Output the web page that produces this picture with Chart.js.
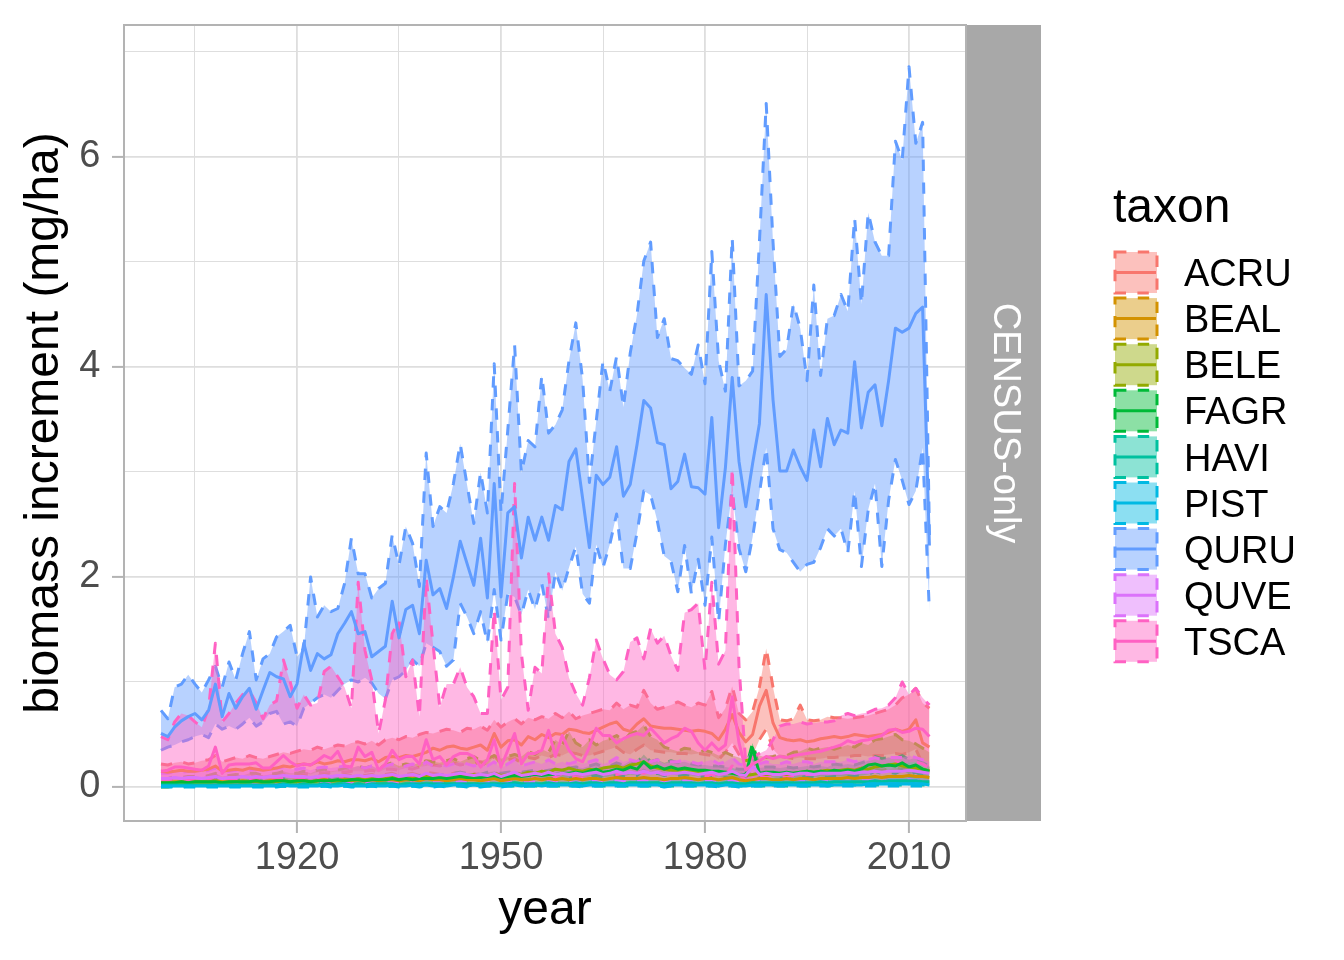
<!DOCTYPE html>
<html>
<head>
<meta charset="utf-8">
<title>biomass increment by taxon</title>
<script src="https://cdn.jsdelivr.net/npm/chart.js@4.4.1/dist/chart.umd.min.js"></script>
<style>
  html, body { margin: 0; padding: 0; background: #ffffff; }
  canvas { display: block; }
</style>
</head>
<body>
<canvas id="biomassChart" width="1344" height="960"></canvas>
<script>
// years 1900..2013, one value per year for every series
const years = [];
for (let y = 1900; y <= 2013; y++) years.push(y);

const taxa = ["ACRU", "BEAL", "BELE", "FAGR", "HAVI", "PIST", "QURU", "QUVE", "TSCA"];
const taxonColors = ["#F8766D", "#D39200", "#93AA00", "#00BA38", "#00C19F", "#00B9E3", "#619CFF", "#DB72FB", "#FF61C3"];

const xMajorTicks = [1920, 1950, 1980, 2010];
const xMinorTicks = [1905, 1935, 1965, 1995];
const yMajorTicks = [0, 2, 4, 6];
const yMinorTicks = [1, 3, 5, 7];
const facetLabel = "CENSUS-only";

// ---- ACRU
const acruHi = [
  0.22, 0.21, 0.23, 0.24, 0.22, 0.23, 0.25, 0.26, 0.30, 0.24,
  0.26, 0.28, 0.27, 0.30, 0.28, 0.27, 0.29, 0.31, 0.33, 0.32,
  0.34, 0.36, 0.35, 0.38, 0.36, 0.38, 0.40, 0.39, 0.42, 0.43,
  0.41, 0.44, 0.40, 0.45, 0.47, 0.45, 0.48, 0.47, 0.50, 0.52,
  0.51, 0.53, 0.55, 0.54, 0.52, 0.56, 0.55, 0.58, 0.54, 0.64,
  0.57, 0.62, 0.65, 0.60, 0.66, 0.64, 0.67, 0.65, 0.70, 0.66,
  0.72, 0.65, 0.68, 0.70, 0.72, 0.74, 0.73, 0.80, 0.74, 0.78,
  0.76, 0.92, 0.80, 0.74, 0.76, 0.78, 0.81, 0.78, 0.76, 0.80,
  0.78, 0.91, 0.66, 0.75, 0.96, 0.70, 0.64, 0.72, 0.95, 1.32,
  0.95, 0.64, 0.63, 0.65, 0.78, 0.64, 0.63, 0.64, 0.67, 0.66,
  0.66, 0.65, 0.66, 0.67, 0.68, 0.70, 0.72, 0.74, 0.78, 0.85,
  0.88, 0.94, 0.80, 0.75
];
const acruMid = [
  0.15, 0.14, 0.15, 0.16, 0.15, 0.15, 0.16, 0.17, 0.20, 0.15,
  0.16, 0.17, 0.16, 0.18, 0.17, 0.16, 0.17, 0.18, 0.20, 0.19,
  0.21, 0.22, 0.21, 0.24, 0.22, 0.23, 0.25, 0.24, 0.26, 0.26,
  0.25, 0.27, 0.24, 0.28, 0.29, 0.28, 0.30, 0.29, 0.31, 0.33,
  0.37, 0.35, 0.38, 0.39, 0.37, 0.36, 0.38, 0.40, 0.35, 0.51,
  0.38, 0.44, 0.45, 0.40, 0.48, 0.45, 0.50, 0.47, 0.51, 0.50,
  0.55, 0.54, 0.52, 0.51, 0.54, 0.57, 0.60, 0.62, 0.55, 0.53,
  0.60, 0.65, 0.58, 0.57, 0.56, 0.56, 0.55, 0.54, 0.53, 0.54,
  0.53, 0.51, 0.45, 0.55, 0.69, 0.52, 0.43, 0.50, 0.77, 0.92,
  0.61, 0.47, 0.45, 0.44, 0.45, 0.43, 0.44, 0.46, 0.47, 0.48,
  0.47, 0.48, 0.50, 0.49, 0.48, 0.49, 0.50, 0.52, 0.55, 0.53,
  0.55, 0.64, 0.42, 0.38
];
const acruLo = [
  0.08, 0.08, 0.09, 0.09, 0.09, 0.08, 0.09, 0.10, 0.11, 0.09,
  0.09, 0.10, 0.10, 0.11, 0.10, 0.10, 0.11, 0.11, 0.12, 0.12,
  0.12, 0.13, 0.12, 0.14, 0.13, 0.14, 0.15, 0.14, 0.15, 0.15,
  0.15, 0.16, 0.14, 0.17, 0.17, 0.16, 0.18, 0.17, 0.19, 0.20,
  0.21, 0.20, 0.22, 0.23, 0.21, 0.22, 0.22, 0.24, 0.20, 0.30,
  0.22, 0.26, 0.27, 0.23, 0.28, 0.27, 0.30, 0.28, 0.31, 0.30,
  0.33, 0.32, 0.30, 0.30, 0.32, 0.34, 0.36, 0.38, 0.33, 0.31,
  0.36, 0.40, 0.35, 0.34, 0.33, 0.33, 0.32, 0.32, 0.31, 0.32,
  0.31, 0.30, 0.26, 0.33, 0.42, 0.31, 0.25, 0.30, 0.45, 0.55,
  0.36, 0.29, 0.28, 0.27, 0.28, 0.27, 0.27, 0.27, 0.28, 0.28,
  0.29, 0.29, 0.30, 0.30, 0.29, 0.30, 0.30, 0.31, 0.32, 0.31,
  0.33, 0.36, 0.22, 0.18
];

// ---- BEAL
const bealHi = [
  0.07, 0.07, 0.08, 0.08, 0.07, 0.08, 0.08, 0.09, 0.10, 0.08,
  0.08, 0.09, 0.10, 0.09, 0.10, 0.09, 0.10, 0.10, 0.11, 0.09,
  0.10, 0.11, 0.09, 0.10, 0.12, 0.11, 0.10, 0.12, 0.11, 0.12,
  0.11, 0.12, 0.10, 0.12, 0.13, 0.11, 0.12, 0.13, 0.11, 0.14,
  0.13, 0.12, 0.11, 0.13, 0.14, 0.12, 0.13, 0.11, 0.12, 0.14,
  0.11, 0.13, 0.14, 0.12, 0.13, 0.14, 0.13, 0.14, 0.13, 0.14,
  0.13, 0.14, 0.13, 0.14, 0.15, 0.13, 0.14, 0.16, 0.14, 0.14,
  0.14, 0.16, 0.15, 0.14, 0.13, 0.14, 0.15, 0.16, 0.14, 0.13,
  0.14, 0.15, 0.13, 0.14, 0.16, 0.13, 0.11, 0.13, 0.14, 0.15,
  0.13, 0.13, 0.14, 0.13, 0.14, 0.14, 0.13, 0.14, 0.15, 0.14,
  0.15, 0.16, 0.15, 0.16, 0.16, 0.17, 0.16, 0.17, 0.18, 0.17,
  0.19, 0.18, 0.17, 0.16
];
const bealMid = [
  0.04, 0.04, 0.05, 0.05, 0.04, 0.05, 0.05, 0.05, 0.06, 0.05,
  0.05, 0.05, 0.06, 0.05, 0.06, 0.05, 0.06, 0.06, 0.06, 0.05,
  0.06, 0.06, 0.05, 0.06, 0.07, 0.06, 0.06, 0.07, 0.06, 0.07,
  0.06, 0.07, 0.06, 0.07, 0.07, 0.06, 0.07, 0.07, 0.06, 0.08,
  0.07, 0.07, 0.06, 0.07, 0.08, 0.07, 0.07, 0.06, 0.07, 0.08,
  0.06, 0.07, 0.08, 0.07, 0.07, 0.08, 0.07, 0.08, 0.07, 0.08,
  0.07, 0.08, 0.07, 0.08, 0.08, 0.07, 0.08, 0.09, 0.08, 0.08,
  0.08, 0.09, 0.08, 0.08, 0.07, 0.08, 0.08, 0.09, 0.08, 0.07,
  0.08, 0.08, 0.07, 0.08, 0.09, 0.07, 0.06, 0.07, 0.08, 0.08,
  0.07, 0.07, 0.08, 0.07, 0.08, 0.08, 0.07, 0.08, 0.08, 0.08,
  0.08, 0.09, 0.08, 0.09, 0.09, 0.10, 0.09, 0.10, 0.10, 0.10,
  0.11, 0.10, 0.10, 0.09
];
const bealLo = [
  0.02, 0.02, 0.03, 0.03, 0.02, 0.03, 0.03, 0.02, 0.03, 0.03,
  0.03, 0.02, 0.03, 0.02, 0.03, 0.02, 0.03, 0.03, 0.02, 0.02,
  0.03, 0.02, 0.02, 0.03, 0.03, 0.02, 0.03, 0.03, 0.02, 0.03,
  0.02, 0.03, 0.03, 0.03, 0.02, 0.02, 0.03, 0.02, 0.02, 0.03,
  0.02, 0.03, 0.02, 0.02, 0.03, 0.03, 0.02, 0.02, 0.03, 0.03,
  0.02, 0.02, 0.03, 0.03, 0.02, 0.03, 0.02, 0.03, 0.02, 0.03,
  0.02, 0.03, 0.02, 0.03, 0.02, 0.02, 0.03, 0.03, 0.03, 0.02,
  0.03, 0.03, 0.02, 0.03, 0.02, 0.03, 0.02, 0.03, 0.03, 0.02,
  0.03, 0.02, 0.02, 0.03, 0.03, 0.02, 0.02, 0.02, 0.03, 0.02,
  0.02, 0.02, 0.03, 0.02, 0.03, 0.03, 0.02, 0.03, 0.02, 0.03,
  0.03, 0.03, 0.02, 0.03, 0.03, 0.04, 0.03, 0.04, 0.03, 0.04,
  0.04, 0.03, 0.03, 0.03
];

// ---- BELE
const beleHi = [
  0.08, 0.08, 0.10, 0.09, 0.10, 0.10, 0.09, 0.11, 0.13, 0.10,
  0.11, 0.12, 0.11, 0.13, 0.13, 0.11, 0.12, 0.13, 0.15, 0.13,
  0.13, 0.15, 0.13, 0.16, 0.17, 0.15, 0.16, 0.18, 0.18, 0.20,
  0.18, 0.20, 0.17, 0.21, 0.23, 0.20, 0.22, 0.21, 0.23, 0.25,
  0.24, 0.23, 0.25, 0.27, 0.24, 0.27, 0.29, 0.25, 0.27, 0.30,
  0.27, 0.29, 0.31, 0.29, 0.34, 0.31, 0.36, 0.33, 0.45, 0.40,
  0.53, 0.42, 0.38, 0.45, 0.40, 0.44, 0.46, 0.49, 0.44, 0.51,
  0.53, 0.59, 0.48, 0.45, 0.38, 0.36, 0.34, 0.37, 0.36, 0.33,
  0.35, 0.33, 0.30, 0.33, 0.30, 0.28, 0.25, 0.27, 0.30, 0.28,
  0.29, 0.31, 0.30, 0.33, 0.34, 0.37, 0.35, 0.37, 0.38, 0.36,
  0.38, 0.40, 0.38, 0.42, 0.40, 0.45, 0.46, 0.48, 0.50, 0.45,
  0.44, 0.41, 0.37, 0.33
];
const beleMid = [
  0.03, 0.03, 0.04, 0.03, 0.04, 0.04, 0.03, 0.04, 0.05, 0.04,
  0.04, 0.05, 0.04, 0.05, 0.05, 0.04, 0.05, 0.05, 0.06, 0.05,
  0.05, 0.06, 0.05, 0.06, 0.07, 0.06, 0.06, 0.07, 0.07, 0.08,
  0.07, 0.08, 0.07, 0.08, 0.09, 0.08, 0.09, 0.08, 0.09, 0.10,
  0.10, 0.09, 0.10, 0.11, 0.10, 0.11, 0.12, 0.10, 0.11, 0.13,
  0.11, 0.12, 0.13, 0.12, 0.14, 0.13, 0.15, 0.14, 0.17, 0.16,
  0.18, 0.16, 0.15, 0.17, 0.16, 0.18, 0.19, 0.20, 0.18, 0.21,
  0.22, 0.24, 0.20, 0.18, 0.17, 0.16, 0.15, 0.16, 0.15, 0.14,
  0.15, 0.14, 0.13, 0.14, 0.13, 0.12, 0.11, 0.12, 0.13, 0.12,
  0.12, 0.13, 0.12, 0.13, 0.14, 0.15, 0.14, 0.15, 0.16, 0.15,
  0.16, 0.17, 0.16, 0.18, 0.17, 0.19, 0.20, 0.21, 0.22, 0.20,
  0.19, 0.18, 0.17, 0.15
];
const beleLo = [
  0.00, 0.00, 0.01, 0.00, 0.01, 0.01, 0.00, 0.01, 0.01, 0.01,
  0.01, 0.01, 0.01, 0.01, 0.01, 0.01, 0.01, 0.01, 0.01, 0.01,
  0.01, 0.01, 0.01, 0.01, 0.02, 0.01, 0.01, 0.02, 0.02, 0.02,
  0.02, 0.02, 0.02, 0.02, 0.02, 0.02, 0.02, 0.02, 0.02, 0.02,
  0.02, 0.02, 0.02, 0.03, 0.02, 0.02, 0.03, 0.02, 0.02, 0.03,
  0.02, 0.02, 0.03, 0.02, 0.03, 0.02, 0.03, 0.03, 0.03, 0.03,
  0.03, 0.03, 0.02, 0.03, 0.03, 0.03, 0.03, 0.03, 0.03, 0.03,
  0.03, 0.04, 0.03, 0.03, 0.03, 0.03, 0.02, 0.03, 0.02, 0.02,
  0.02, 0.02, 0.02, 0.02, 0.02, 0.02, 0.02, 0.02, 0.02, 0.02,
  0.02, 0.02, 0.02, 0.02, 0.02, 0.03, 0.02, 0.03, 0.03, 0.03,
  0.03, 0.03, 0.03, 0.03, 0.03, 0.03, 0.03, 0.04, 0.04, 0.03,
  0.03, 0.03, 0.03, 0.02
];

// ---- FAGR
const fagrHi = [
  0.06, 0.06, 0.06, 0.07, 0.06, 0.07, 0.07, 0.07, 0.08, 0.06,
  0.07, 0.07, 0.07, 0.08, 0.08, 0.07, 0.08, 0.08, 0.09, 0.08,
  0.08, 0.09, 0.08, 0.09, 0.09, 0.09, 0.10, 0.09, 0.10, 0.10,
  0.09, 0.10, 0.10, 0.10, 0.11, 0.10, 0.11, 0.10, 0.11, 0.12,
  0.11, 0.12, 0.11, 0.13, 0.14, 0.13, 0.13, 0.12, 0.14, 0.15,
  0.13, 0.14, 0.15, 0.14, 0.15, 0.16, 0.15, 0.16, 0.17, 0.18,
  0.18, 0.19, 0.18, 0.20, 0.22, 0.19, 0.20, 0.23, 0.21, 0.25,
  0.23, 0.31, 0.24, 0.26, 0.23, 0.25, 0.23, 0.24, 0.22, 0.21,
  0.21, 0.20, 0.20, 0.19, 0.18, 0.17, 0.17, 0.42, 0.18, 0.19,
  0.19, 0.18, 0.19, 0.18, 0.19, 0.20, 0.19, 0.20, 0.19, 0.22,
  0.21, 0.22, 0.21, 0.23, 0.25, 0.29, 0.27, 0.28, 0.27, 0.30,
  0.26, 0.28, 0.23, 0.20
];
const fagrMid = [
  0.04, 0.04, 0.04, 0.05, 0.04, 0.05, 0.05, 0.05, 0.05, 0.04,
  0.05, 0.05, 0.05, 0.05, 0.06, 0.05, 0.05, 0.06, 0.06, 0.05,
  0.06, 0.06, 0.05, 0.06, 0.06, 0.06, 0.07, 0.06, 0.07, 0.07,
  0.06, 0.07, 0.07, 0.07, 0.08, 0.07, 0.08, 0.07, 0.08, 0.08,
  0.08, 0.09, 0.08, 0.09, 0.10, 0.09, 0.09, 0.09, 0.10, 0.11,
  0.09, 0.10, 0.11, 0.10, 0.11, 0.12, 0.11, 0.12, 0.12, 0.13,
  0.13, 0.14, 0.13, 0.15, 0.17, 0.14, 0.15, 0.17, 0.16, 0.19,
  0.17, 0.24, 0.18, 0.20, 0.17, 0.19, 0.17, 0.18, 0.17, 0.16,
  0.16, 0.15, 0.15, 0.14, 0.13, 0.12, 0.12, 0.37, 0.13, 0.14,
  0.14, 0.13, 0.14, 0.13, 0.14, 0.15, 0.14, 0.15, 0.14, 0.16,
  0.15, 0.16, 0.15, 0.17, 0.21, 0.22, 0.20, 0.21, 0.20, 0.23,
  0.19, 0.21, 0.17, 0.15
];
const fagrLo = [
  0.02, 0.02, 0.02, 0.03, 0.02, 0.03, 0.03, 0.03, 0.03, 0.02,
  0.03, 0.03, 0.03, 0.03, 0.04, 0.03, 0.03, 0.04, 0.04, 0.03,
  0.04, 0.04, 0.03, 0.04, 0.04, 0.04, 0.04, 0.04, 0.04, 0.04,
  0.04, 0.04, 0.04, 0.04, 0.05, 0.04, 0.05, 0.04, 0.05, 0.05,
  0.05, 0.06, 0.05, 0.06, 0.06, 0.06, 0.06, 0.06, 0.06, 0.07,
  0.06, 0.06, 0.07, 0.06, 0.07, 0.08, 0.07, 0.08, 0.08, 0.08,
  0.08, 0.09, 0.08, 0.10, 0.11, 0.09, 0.10, 0.11, 0.10, 0.12,
  0.11, 0.16, 0.12, 0.13, 0.11, 0.12, 0.11, 0.12, 0.11, 0.10,
  0.10, 0.10, 0.10, 0.09, 0.08, 0.08, 0.08, 0.30, 0.08, 0.09,
  0.09, 0.08, 0.09, 0.08, 0.09, 0.10, 0.09, 0.10, 0.09, 0.10,
  0.10, 0.10, 0.10, 0.11, 0.12, 0.15, 0.13, 0.14, 0.13, 0.16,
  0.12, 0.14, 0.11, 0.10
];

// ---- HAVI
const haviHi = [
  0.03, 0.03, 0.04, 0.03, 0.04, 0.03, 0.04, 0.04, 0.04, 0.03,
  0.04, 0.04, 0.04, 0.04, 0.04, 0.04, 0.04, 0.04, 0.05, 0.04,
  0.04, 0.05, 0.04, 0.04, 0.05, 0.04, 0.05, 0.05, 0.04, 0.05,
  0.04, 0.05, 0.05, 0.05, 0.05, 0.04, 0.05, 0.05, 0.05, 0.06,
  0.05, 0.05, 0.05, 0.06, 0.06, 0.05, 0.05, 0.05, 0.05, 0.06,
  0.05, 0.06, 0.07, 0.05, 0.06, 0.06, 0.05, 0.07, 0.06, 0.06,
  0.06, 0.07, 0.06, 0.07, 0.07, 0.06, 0.07, 0.07, 0.06, 0.07,
  0.07, 0.08, 0.07, 0.07, 0.06, 0.07, 0.07, 0.07, 0.07, 0.06,
  0.07, 0.07, 0.06, 0.07, 0.07, 0.06, 0.06, 0.07, 0.07, 0.07,
  0.07, 0.07, 0.07, 0.07, 0.07, 0.07, 0.07, 0.08, 0.07, 0.08,
  0.08, 0.08, 0.08, 0.08, 0.09, 0.10, 0.09, 0.10, 0.10, 0.10,
  0.10, 0.10, 0.09, 0.08
];
const haviMid = [
  0.02, 0.02, 0.02, 0.02, 0.02, 0.02, 0.02, 0.02, 0.02, 0.02,
  0.02, 0.02, 0.02, 0.02, 0.02, 0.02, 0.02, 0.02, 0.03, 0.02,
  0.02, 0.03, 0.02, 0.02, 0.03, 0.02, 0.03, 0.03, 0.02, 0.03,
  0.02, 0.03, 0.03, 0.03, 0.03, 0.02, 0.03, 0.03, 0.03, 0.03,
  0.03, 0.03, 0.03, 0.03, 0.03, 0.03, 0.03, 0.03, 0.03, 0.03,
  0.03, 0.03, 0.04, 0.03, 0.03, 0.03, 0.03, 0.04, 0.03, 0.03,
  0.03, 0.04, 0.03, 0.04, 0.04, 0.03, 0.04, 0.04, 0.03, 0.04,
  0.04, 0.04, 0.04, 0.04, 0.03, 0.04, 0.04, 0.04, 0.04, 0.03,
  0.04, 0.04, 0.03, 0.04, 0.04, 0.03, 0.03, 0.04, 0.04, 0.04,
  0.04, 0.04, 0.04, 0.04, 0.04, 0.04, 0.04, 0.05, 0.04, 0.05,
  0.05, 0.05, 0.05, 0.05, 0.05, 0.06, 0.05, 0.06, 0.06, 0.06,
  0.06, 0.06, 0.05, 0.05
];
const haviLo = [
  0.01, 0.01, 0.01, 0.01, 0.01, 0.01, 0.01, 0.01, 0.01, 0.01,
  0.01, 0.01, 0.01, 0.01, 0.01, 0.01, 0.01, 0.01, 0.01, 0.01,
  0.01, 0.01, 0.01, 0.01, 0.01, 0.01, 0.01, 0.01, 0.01, 0.01,
  0.01, 0.01, 0.01, 0.01, 0.01, 0.01, 0.01, 0.01, 0.01, 0.01,
  0.01, 0.01, 0.01, 0.01, 0.01, 0.01, 0.01, 0.01, 0.01, 0.01,
  0.01, 0.01, 0.01, 0.01, 0.01, 0.01, 0.01, 0.01, 0.01, 0.01,
  0.01, 0.01, 0.01, 0.01, 0.01, 0.01, 0.01, 0.01, 0.01, 0.01,
  0.01, 0.01, 0.01, 0.01, 0.01, 0.01, 0.01, 0.01, 0.01, 0.01,
  0.01, 0.01, 0.01, 0.01, 0.01, 0.01, 0.01, 0.01, 0.01, 0.01,
  0.01, 0.01, 0.01, 0.01, 0.01, 0.01, 0.01, 0.02, 0.01, 0.02,
  0.02, 0.02, 0.02, 0.02, 0.02, 0.02, 0.02, 0.02, 0.02, 0.02,
  0.02, 0.02, 0.02, 0.02
];

// ---- PIST
const pistHi = [
  0.02, 0.02, 0.02, 0.02, 0.02, 0.02, 0.02, 0.02, 0.02, 0.02,
  0.02, 0.02, 0.02, 0.02, 0.02, 0.02, 0.02, 0.02, 0.03, 0.02,
  0.02, 0.02, 0.02, 0.02, 0.03, 0.02, 0.02, 0.03, 0.02, 0.02,
  0.02, 0.03, 0.02, 0.02, 0.03, 0.02, 0.02, 0.03, 0.02, 0.03,
  0.02, 0.03, 0.02, 0.03, 0.03, 0.02, 0.03, 0.02, 0.03, 0.03,
  0.02, 0.03, 0.03, 0.02, 0.03, 0.03, 0.02, 0.03, 0.03, 0.03,
  0.03, 0.03, 0.02, 0.03, 0.03, 0.03, 0.03, 0.03, 0.03, 0.03,
  0.03, 0.03, 0.03, 0.03, 0.02, 0.03, 0.03, 0.03, 0.03, 0.03,
  0.03, 0.03, 0.02, 0.03, 0.03, 0.02, 0.02, 0.03, 0.03, 0.03,
  0.03, 0.03, 0.03, 0.03, 0.03, 0.03, 0.03, 0.03, 0.03, 0.03,
  0.03, 0.03, 0.03, 0.03, 0.04, 0.04, 0.04, 0.04, 0.05, 0.05,
  0.05, 0.05, 0.04, 0.04
];
const pistMid = [
  0.01, 0.01, 0.01, 0.01, 0.01, 0.01, 0.01, 0.01, 0.01, 0.01,
  0.01, 0.01, 0.01, 0.01, 0.01, 0.01, 0.01, 0.01, 0.02, 0.01,
  0.01, 0.01, 0.01, 0.01, 0.02, 0.01, 0.01, 0.02, 0.01, 0.01,
  0.01, 0.02, 0.01, 0.01, 0.02, 0.01, 0.01, 0.02, 0.01, 0.02,
  0.01, 0.02, 0.01, 0.02, 0.02, 0.01, 0.02, 0.01, 0.02, 0.02,
  0.01, 0.02, 0.02, 0.01, 0.02, 0.02, 0.01, 0.02, 0.02, 0.02,
  0.02, 0.02, 0.01, 0.02, 0.02, 0.02, 0.02, 0.02, 0.02, 0.02,
  0.02, 0.02, 0.02, 0.02, 0.01, 0.02, 0.02, 0.02, 0.02, 0.02,
  0.02, 0.02, 0.01, 0.02, 0.02, 0.01, 0.01, 0.02, 0.02, 0.02,
  0.02, 0.02, 0.02, 0.02, 0.02, 0.02, 0.02, 0.02, 0.02, 0.02,
  0.02, 0.02, 0.02, 0.02, 0.03, 0.03, 0.03, 0.03, 0.03, 0.03,
  0.03, 0.03, 0.03, 0.02
];
const pistLo = [
  0.00, 0.00, 0.00, 0.00, 0.00, 0.00, 0.00, 0.00, 0.00, 0.00,
  0.00, 0.00, 0.00, 0.00, 0.00, 0.00, 0.00, 0.00, 0.01, 0.00,
  0.00, 0.00, 0.00, 0.00, 0.01, 0.00, 0.00, 0.01, 0.00, 0.00,
  0.00, 0.01, 0.00, 0.00, 0.01, 0.00, 0.00, 0.01, 0.00, 0.01,
  0.00, 0.01, 0.00, 0.01, 0.01, 0.00, 0.01, 0.00, 0.01, 0.01,
  0.00, 0.01, 0.01, 0.00, 0.01, 0.01, 0.00, 0.01, 0.01, 0.01,
  0.01, 0.01, 0.00, 0.01, 0.01, 0.01, 0.01, 0.01, 0.01, 0.01,
  0.01, 0.01, 0.01, 0.01, 0.00, 0.01, 0.01, 0.01, 0.01, 0.01,
  0.01, 0.01, 0.00, 0.01, 0.01, 0.00, 0.00, 0.01, 0.01, 0.01,
  0.01, 0.01, 0.01, 0.01, 0.01, 0.01, 0.01, 0.01, 0.01, 0.01,
  0.01, 0.01, 0.01, 0.01, 0.01, 0.01, 0.01, 0.01, 0.01, 0.01,
  0.01, 0.01, 0.01, 0.01
];

// ---- QURU
const quruHi = [
  0.73, 0.65, 0.95, 0.98, 1.07, 0.98, 0.90, 1.02, 1.15, 0.95,
  1.19, 1.02, 1.27, 1.48, 1.02, 1.22, 1.27, 1.43, 1.48, 1.54,
  1.24, 1.32, 2.00, 1.62, 1.73, 1.67, 1.70, 1.94, 2.37, 2.03,
  2.03, 1.80, 1.89, 1.94, 2.40, 2.11, 2.48, 2.32, 1.91, 3.18,
  2.48, 2.67, 2.61, 2.89, 3.27, 2.88, 2.51, 3.00, 2.61, 4.03,
  2.61, 3.40, 4.21, 2.99, 3.30, 3.24, 3.92, 3.37, 3.45, 3.59,
  4.06, 4.42, 3.88, 2.90, 3.48, 4.06, 3.77, 4.10, 3.62, 4.13,
  4.50, 5.01, 5.19, 4.28, 4.46, 4.08, 4.06, 3.99, 3.93, 4.21,
  3.84, 5.10, 4.06, 3.77, 5.23, 3.82, 3.87, 3.96, 5.19, 6.51,
  5.19, 4.10, 4.17, 4.60, 4.37, 3.87, 4.78, 3.92, 4.46, 4.49,
  4.69, 4.53, 5.42, 4.60, 5.47, 5.19, 5.06, 5.06, 6.15, 5.97,
  6.86, 6.13, 6.33, 2.40
];
const quruMid = [
  0.51, 0.48, 0.57, 0.63, 0.67, 0.70, 0.64, 0.73, 0.98, 0.67,
  0.89, 0.75, 0.86, 0.94, 0.74, 0.92, 1.09, 1.05, 1.03, 0.86,
  0.98, 1.37, 1.11, 1.27, 1.22, 1.26, 1.46, 1.56, 1.67, 1.46,
  1.48, 1.24, 1.29, 1.34, 1.77, 1.42, 1.69, 1.73, 1.46, 2.16,
  1.83, 1.89, 1.70, 2.00, 2.34, 2.13, 1.92, 2.37, 1.80, 2.89,
  1.81, 2.61, 2.67, 2.18, 2.57, 2.35, 2.57, 2.35, 2.68, 2.64,
  3.10, 3.22, 2.75, 2.28, 2.97, 2.88, 2.95, 3.24, 2.77, 2.88,
  3.26, 3.68, 3.61, 3.28, 3.26, 2.84, 2.91, 3.17, 2.86, 2.85,
  2.79, 3.52, 2.47, 3.04, 3.90, 3.10, 2.67, 3.08, 3.46, 4.69,
  3.69, 3.01, 3.01, 3.21, 3.05, 2.92, 3.40, 3.05, 3.51, 3.26,
  3.40, 3.37, 4.05, 3.42, 3.76, 3.83, 3.44, 3.87, 4.37, 4.33,
  4.37, 4.51, 4.57, 2.30
];
const quruLo = [
  0.35, 0.38, 0.40, 0.43, 0.45, 0.48, 0.50, 0.47, 0.60, 0.55,
  0.58, 0.55, 0.60, 0.66, 0.58, 0.62, 0.70, 0.72, 0.60, 0.62,
  0.58, 0.75, 0.80, 0.85, 0.88, 0.85, 0.92, 0.98, 1.02, 1.00,
  1.04, 0.99, 0.89, 0.84, 1.02, 1.05, 1.11, 1.21, 1.15, 1.37,
  1.33, 1.29, 1.15, 1.21, 1.75, 1.62, 1.46, 1.67, 1.37, 1.88,
  1.40, 1.84, 1.81, 1.64, 1.88, 1.69, 1.94, 1.59, 2.05, 1.87,
  2.09, 2.29, 1.84, 1.75, 2.31, 2.09, 2.31, 2.60, 2.08, 2.08,
  2.42, 2.82, 2.78, 2.53, 2.20, 2.15, 1.86, 2.30, 1.84, 2.17,
  1.73, 2.38, 1.57, 2.31, 2.82, 2.27, 2.05, 2.38, 2.80, 3.23,
  2.46, 2.26, 2.23, 2.14, 2.05, 2.12, 2.14, 2.28, 2.46, 2.39,
  2.46, 2.23, 2.82, 2.10, 2.64, 2.89, 2.10, 2.73, 3.12, 2.92,
  2.69, 2.82, 3.23, 1.66
];

// ---- QUVE
const quveHi = [
  0.13, 0.13, 0.15, 0.14, 0.15, 0.15, 0.14, 0.16, 0.18, 0.14,
  0.15, 0.16, 0.17, 0.16, 0.17, 0.16, 0.17, 0.18, 0.19, 0.17,
  0.17, 0.18, 0.16, 0.18, 0.19, 0.18, 0.19, 0.20, 0.18, 0.20,
  0.18, 0.20, 0.18, 0.20, 0.22, 0.18, 0.20, 0.22, 0.18, 0.24,
  0.20, 0.22, 0.20, 0.22, 0.24, 0.22, 0.20, 0.22, 0.20, 0.24,
  0.18, 0.22, 0.26, 0.20, 0.22, 0.24, 0.22, 0.26, 0.22, 0.24,
  0.22, 0.24, 0.22, 0.24, 0.26, 0.22, 0.24, 0.28, 0.24, 0.26,
  0.24, 0.28, 0.24, 0.26, 0.22, 0.24, 0.24, 0.26, 0.24, 0.22,
  0.24, 0.26, 0.22, 0.24, 0.28, 0.22, 0.20, 0.35, 0.22, 0.24,
  0.22, 0.22, 0.24, 0.22, 0.24, 0.24, 0.22, 0.24, 0.24, 0.24,
  0.24, 0.26, 0.24, 0.26, 0.26, 0.28, 0.26, 0.28, 0.28, 0.28,
  0.30, 0.28, 0.26, 0.24
];
const quveMid = [
  0.08, 0.08, 0.09, 0.08, 0.09, 0.09, 0.08, 0.09, 0.10, 0.08,
  0.09, 0.09, 0.10, 0.09, 0.10, 0.09, 0.10, 0.10, 0.11, 0.10,
  0.10, 0.10, 0.09, 0.10, 0.11, 0.10, 0.11, 0.11, 0.10, 0.11,
  0.10, 0.11, 0.10, 0.11, 0.12, 0.10, 0.11, 0.12, 0.10, 0.13,
  0.11, 0.12, 0.11, 0.12, 0.13, 0.12, 0.11, 0.12, 0.11, 0.13,
  0.10, 0.12, 0.14, 0.11, 0.12, 0.13, 0.12, 0.14, 0.12, 0.13,
  0.12, 0.13, 0.12, 0.13, 0.14, 0.12, 0.13, 0.15, 0.13, 0.14,
  0.13, 0.15, 0.13, 0.14, 0.12, 0.13, 0.13, 0.14, 0.13, 0.12,
  0.13, 0.14, 0.12, 0.13, 0.15, 0.12, 0.11, 0.20, 0.12, 0.13,
  0.12, 0.12, 0.13, 0.12, 0.13, 0.13, 0.12, 0.13, 0.13, 0.13,
  0.13, 0.14, 0.13, 0.14, 0.14, 0.15, 0.14, 0.15, 0.15, 0.15,
  0.16, 0.15, 0.14, 0.13
];
const quveLo = [
  0.03, 0.03, 0.04, 0.03, 0.04, 0.04, 0.03, 0.04, 0.04, 0.03,
  0.04, 0.04, 0.04, 0.04, 0.04, 0.04, 0.04, 0.04, 0.05, 0.04,
  0.04, 0.04, 0.04, 0.04, 0.05, 0.04, 0.05, 0.05, 0.04, 0.05,
  0.04, 0.05, 0.04, 0.05, 0.05, 0.04, 0.05, 0.05, 0.04, 0.05,
  0.05, 0.05, 0.05, 0.05, 0.05, 0.05, 0.05, 0.05, 0.05, 0.05,
  0.04, 0.05, 0.06, 0.05, 0.05, 0.05, 0.05, 0.06, 0.05, 0.05,
  0.05, 0.05, 0.05, 0.05, 0.06, 0.05, 0.05, 0.06, 0.05, 0.06,
  0.05, 0.06, 0.05, 0.06, 0.05, 0.05, 0.05, 0.06, 0.05, 0.05,
  0.05, 0.06, 0.05, 0.05, 0.06, 0.05, 0.04, 0.08, 0.05, 0.05,
  0.05, 0.05, 0.05, 0.05, 0.05, 0.05, 0.05, 0.05, 0.05, 0.05,
  0.05, 0.06, 0.05, 0.06, 0.06, 0.06, 0.06, 0.06, 0.06, 0.06,
  0.07, 0.06, 0.06, 0.05
];

// ---- TSCA
const tscaHi = [
  0.48, 0.45, 0.62, 0.70, 0.68, 0.62, 0.57, 0.75, 1.37, 0.62,
  0.70, 0.80, 0.88, 0.92, 0.80, 0.65, 0.78, 0.82, 1.21, 1.00,
  0.75, 0.88, 0.78, 0.80, 1.10, 1.15, 1.05, 0.95, 0.75, 1.95,
  1.30, 1.02, 0.51, 0.83, 1.46, 1.59, 1.05, 1.21, 0.67, 2.00,
  1.36, 0.76, 0.98, 0.98, 1.14, 0.95, 0.86, 0.70, 0.70, 1.69,
  0.83, 0.95, 2.89, 1.27, 0.73, 1.14, 1.08, 2.03, 1.46, 1.33,
  1.04, 0.89, 0.78, 1.04, 1.40, 1.22, 1.07, 1.02, 1.10, 1.38,
  1.42, 1.22, 1.51, 1.37, 1.44, 1.25, 1.11, 1.66, 1.69, 1.75,
  1.11, 1.95, 1.17, 1.30, 3.04, 1.15, 0.22, 0.28, 0.32, 0.35,
  0.45, 0.58, 0.60, 0.60, 0.62, 0.60, 0.61, 0.62, 0.62, 0.63,
  0.68, 0.70, 0.68, 0.70, 0.71, 0.74, 0.75, 0.78, 0.85, 1.00,
  0.88, 0.94, 0.85, 0.78
];
const tscaMid = [
  0.15, 0.16, 0.19, 0.19, 0.18, 0.17, 0.16, 0.20, 0.38, 0.13,
  0.21, 0.22, 0.22, 0.22, 0.23, 0.18, 0.18, 0.24, 0.30, 0.24,
  0.20, 0.22, 0.21, 0.25, 0.30, 0.27, 0.34, 0.20, 0.19, 0.38,
  0.29, 0.33, 0.16, 0.22, 0.35, 0.26, 0.29, 0.29, 0.22, 0.45,
  0.26, 0.29, 0.21, 0.29, 0.32, 0.32, 0.29, 0.19, 0.26, 0.45,
  0.19, 0.35, 0.51, 0.22, 0.32, 0.32, 0.35, 0.54, 0.29, 0.49,
  0.35, 0.27, 0.24, 0.38, 0.56, 0.49, 0.49, 0.42, 0.46, 0.49,
  0.51, 0.49, 0.56, 0.49, 0.42, 0.46, 0.49, 0.56, 0.53, 0.42,
  0.35, 0.42, 0.35, 0.40, 0.86, 0.42, 0.16, 0.22, 0.25, 0.29,
  0.27, 0.29, 0.28, 0.30, 0.31, 0.32, 0.33, 0.34, 0.36, 0.38,
  0.40, 0.44, 0.42, 0.44, 0.45, 0.47, 0.49, 0.54, 0.55, 0.52,
  0.53, 0.56, 0.55, 0.48
];
const tscaLo = [
  0.06, 0.06, 0.07, 0.07, 0.07, 0.06, 0.06, 0.07, 0.10, 0.05,
  0.07, 0.08, 0.08, 0.08, 0.08, 0.07, 0.07, 0.08, 0.09, 0.08,
  0.07, 0.08, 0.07, 0.08, 0.09, 0.09, 0.10, 0.07, 0.07, 0.10,
  0.09, 0.10, 0.06, 0.08, 0.10, 0.09, 0.09, 0.09, 0.08, 0.12,
  0.08, 0.09, 0.07, 0.09, 0.10, 0.10, 0.09, 0.07, 0.08, 0.12,
  0.07, 0.10, 0.13, 0.08, 0.10, 0.10, 0.11, 0.14, 0.09, 0.13,
  0.11, 0.09, 0.08, 0.11, 0.15, 0.13, 0.13, 0.12, 0.13, 0.13,
  0.14, 0.13, 0.15, 0.13, 0.12, 0.13, 0.13, 0.15, 0.14, 0.12,
  0.10, 0.12, 0.10, 0.11, 0.20, 0.12, 0.06, 0.09, 0.10, 0.11,
  0.10, 0.11, 0.10, 0.11, 0.11, 0.12, 0.12, 0.13, 0.13, 0.14,
  0.15, 0.17, 0.16, 0.18, 0.18, 0.19, 0.20, 0.23, 0.24, 0.22,
  0.23, 0.24, 0.22, 0.18
];

// [lower, mean, upper] per taxon, same order as `taxa`
const taxonSeries = [
  [acruLo, acruMid, acruHi],
  [bealLo, bealMid, bealHi],
  [beleLo, beleMid, beleHi],
  [fagrLo, fagrMid, fagrHi],
  [haviLo, haviMid, haviHi],
  [pistLo, pistMid, pistHi],
  [quruLo, quruMid, quruHi],
  [quveLo, quveMid, quveHi],
  [tscaLo, tscaMid, tscaHi]
];

const FONT = "'Liberation Sans', Arial, Helvetica, sans-serif";
const LINE_W = 3;
const DASH = [11.4, 11.4];
const FILL_ALPHA = 0.45;

function hexToRgba(hex, a) {
  const n = parseInt(hex.slice(1), 16);
  return `rgba(${(n >> 16) & 255}, ${(n >> 8) & 255}, ${n & 255}, ${a})`;
}

function toPoints(values) {
  return values.map((v, k) => ({ x: years[k], y: v }));
}

// ribbons first (ACRU..TSCA), then all mean lines on top, like the ggplot layers
const datasets = [];
const totalSets = taxa.length * 3;
let drawStep = 0;
taxa.forEach((name, i) => {
  const [lo, , hi] = taxonSeries[i];
  const hiIndex = datasets.length;
  datasets.push({
    label: name + " upper",
    data: toPoints(hi),
    borderColor: taxonColors[i],
    backgroundColor: hexToRgba(taxonColors[i], FILL_ALPHA),
    borderWidth: LINE_W,
    borderDash: DASH,
    fill: { target: hiIndex + 1 },
    order: totalSets - drawStep++
  });
  datasets.push({
    label: name + " lower",
    data: toPoints(lo),
    borderColor: taxonColors[i],
    borderWidth: LINE_W,
    borderDash: DASH,
    fill: false,
    order: totalSets - drawStep++
  });
});
taxa.forEach((name, i) => {
  datasets.push({
    label: name,
    data: toPoints(taxonSeries[i][1]),
    borderColor: taxonColors[i],
    borderWidth: LINE_W,
    fill: false,
    order: totalSets - drawStep++
  });
});

// panel border, facet strip and the taxon legend
const decorations = {
  id: "decorations",
  afterDatasetsDraw(chart) {
    const { ctx, chartArea: a } = chart;
    ctx.save();
    ctx.strokeStyle = "#B3B3B3";
    ctx.lineWidth = 2;
    ctx.strokeRect(a.left, a.top, a.right - a.left, a.bottom - a.top);
    ctx.restore();
  },
  afterDraw(chart) {
    const { ctx, chartArea: a } = chart;
    ctx.save();

    // strip
    const stripL = a.right + 1, stripW = 74;
    ctx.fillStyle = "#A8A8A8";
    ctx.fillRect(stripL, a.top, stripW, a.bottom - a.top);
    ctx.translate(stripL + stripW / 2, (a.top + a.bottom) / 2);
    ctx.rotate(Math.PI / 2);
    ctx.fillStyle = "#FFFFFF";
    ctx.font = `38px ${FONT}`;
    ctx.textAlign = "center";
    ctx.textBaseline = "middle";
    ctx.fillText(facetLabel, 0, 0);
    ctx.setTransform(1, 0, 0, 1, 0, 0);

    // legend
    const keyX = 1114, keyTop = 251, keyStep = 46.1, keyW = 44, keyH = 43;
    ctx.fillStyle = "#000000";
    ctx.textAlign = "left";
    ctx.textBaseline = "alphabetic";
    ctx.font = `48px ${FONT}`;
    ctx.fillText("taxon", 1113, 222);
    ctx.font = `38px ${FONT}`;
    taxa.forEach((name, i) => {
      const y0 = keyTop + i * keyStep;
      const cy = y0 + keyH / 2;
      ctx.fillStyle = hexToRgba(taxonColors[i], FILL_ALPHA);
      ctx.fillRect(keyX + 1, y0 + 1, keyW - 2, keyH - 2);
      ctx.strokeStyle = taxonColors[i];
      ctx.lineWidth = LINE_W;
      ctx.setLineDash(DASH);
      ctx.strokeRect(keyX + 1, y0 + 1, keyW - 2, keyH - 2);
      ctx.setLineDash([]);
      ctx.beginPath();
      ctx.moveTo(keyX + 2, cy);
      ctx.lineTo(keyX + keyW - 2, cy);
      ctx.stroke();
      ctx.fillStyle = "#000000";
      ctx.fillText(name, 1184, cy + 13.6);
    });
    ctx.restore();
  }
};

function isIn(list, v) { return list.indexOf(v) !== -1; }

Chart.defaults.font.family = FONT;

new Chart(document.getElementById("biomassChart"), {
  type: "line",
  data: { datasets: datasets },
  plugins: [decorations],
  options: {
    responsive: false,
    animation: false,
    devicePixelRatio: 1,
    layout: { padding: { left: 0, right: 378, top: 25, bottom: 0 } },
    elements: {
      point: { radius: 0, hoverRadius: 0 },
      line: { tension: 0, borderJoinStyle: "round", borderCapStyle: "butt" }
    },
    plugins: {
      legend: { display: false },
      tooltip: { enabled: false }
    },
    scales: {
      x: {
        type: "linear",
        min: 1894.56,
        max: 2018.38,
        afterBuildTicks: scale => {
          scale.ticks = xMinorTicks.concat(xMajorTicks).sort((p, q) => p - q).map(v => ({ value: v }));
        },
        afterFit: scale => {
          scale.height = 139;
          scale.paddingLeft = 0;
          scale.paddingRight = 0;
        },
        border: { display: false },
        grid: {
          color: "#DEDEDE",
          lineWidth: c => (c.tick && isIn(xMajorTicks, c.tick.value)) ? 1.8 : 1,
          tickColor: c => (c.tick && isIn(xMajorTicks, c.tick.value)) ? "#B3B3B3" : "rgba(0,0,0,0)",
          tickLength: 12,
          tickWidth: 2
        },
        ticks: {
          autoSkip: false,
          maxRotation: 0,
          minRotation: 0,
          padding: 2.5,
          color: "#4D4D4D",
          font: { size: 38, lineHeight: 1.2 },
          callback: v => isIn(xMajorTicks, v) ? String(v) : ""
        },
        title: {
          display: true,
          text: "year",
          color: "#000000",
          font: { size: 48, lineHeight: 1.2 },
          padding: { top: 0, bottom: 20 }
        }
      },
      y: {
        type: "linear",
        min: -0.3238,
        max: 7.257,
        afterBuildTicks: scale => {
          scale.ticks = yMajorTicks.concat(yMinorTicks).sort((p, q) => p - q).map(v => ({ value: v }));
        },
        afterFit: scale => {
          scale.width = 124;
          scale.paddingTop = 0;
          scale.paddingBottom = 0;
        },
        border: { display: false },
        grid: {
          color: "#DEDEDE",
          lineWidth: c => (c.tick && isIn(yMajorTicks, c.tick.value)) ? 1.8 : 1,
          tickColor: c => (c.tick && isIn(yMajorTicks, c.tick.value)) ? "#B3B3B3" : "rgba(0,0,0,0)",
          tickLength: 12,
          tickWidth: 2
        },
        ticks: {
          autoSkip: false,
          padding: 11.5,
          color: "#4D4D4D",
          font: { size: 38, lineHeight: 1.2 },
          callback: v => isIn(yMajorTicks, v) ? String(v) : ""
        },
        title: {
          display: true,
          text: "biomass increment (mg/ha)",
          color: "#000000",
          font: { size: 48, lineHeight: 1.2 },
          padding: { top: 16, bottom: 0 }
        }
      }
    }
  }
});
</script>
</body>
</html>
